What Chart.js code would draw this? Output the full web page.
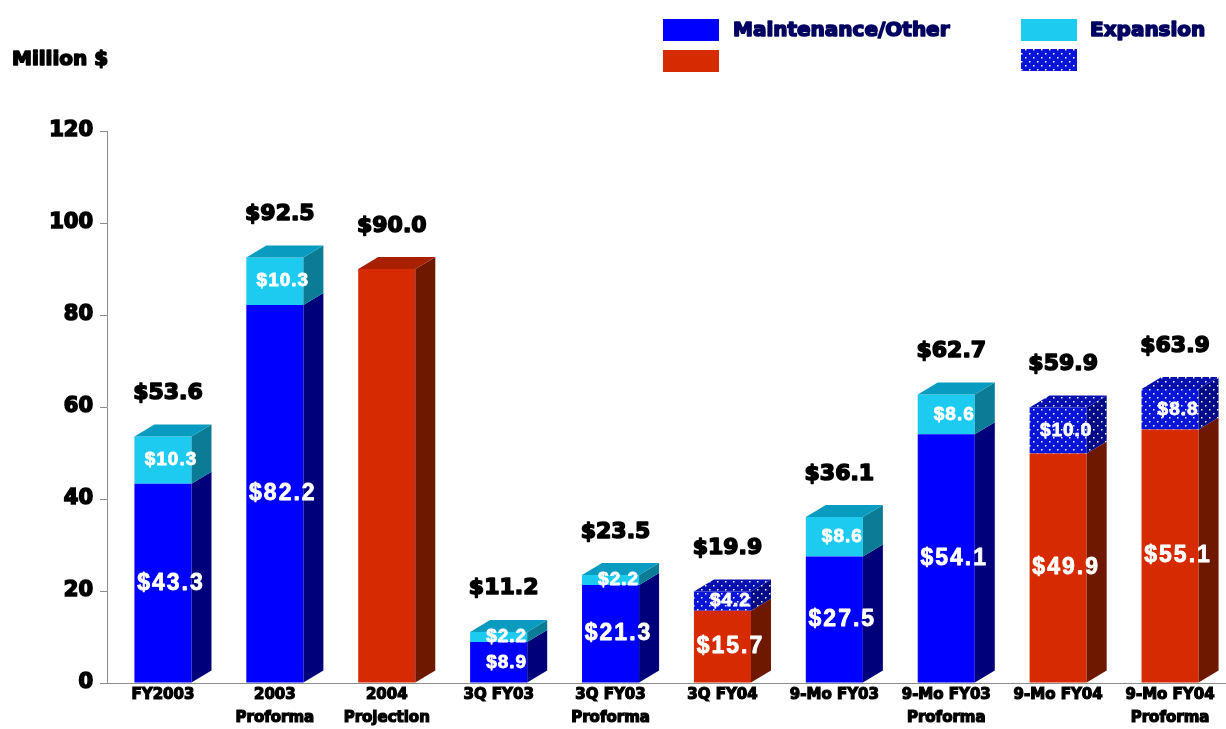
<!DOCTYPE html>
<html>
<head>
<meta charset="utf-8">
<script src="https://cdn.jsdelivr.net/npm/chart.js@4"></script>
<style>
  html, body { margin: 0; padding: 0; background: #fff; }
  #wrap { width: 1226px; height: 729px; }
</style>
</head>
<body>
<div id="wrap"><canvas id="chart" width="1226" height="729"></canvas></div>
<script>
// データ
const categories = [
  ["FY2003"], ["2003", "Proforma"], ["2004", "Projection"], ["3Q FY03"],
  ["3Q FY03", "Proforma"], ["3Q FY04"], ["9-Mo FY03"], ["9-Mo FY03", "Proforma"],
  ["9-Mo FY04"], ["9-Mo FY04", "Proforma"]
];
const maintenance = [43.3, 82.2, null, 8.9, 21.3, null, 27.5, 54.1, null, null];
const maintenanceFY04 = [null, null, 90.0, null, null, 15.7, null, null, 49.9, 55.1];
const expansion = [10.3, 10.3, null, 2.2, 2.2, null, 8.6, 8.6, null, null];
const expansionFY04 = [null, null, null, null, null, 4.2, null, null, 10.0, 8.8];
const totals = [53.6, 92.5, 90.0, 11.2, 23.5, 19.9, 36.1, 62.7, 59.9, 63.9];
const yTicks = [0, 20, 40, 60, 80, 100, 120];

const FONT = "'DejaVu Sans', sans-serif";
const DX = 20, DY = 12; // 奥行き

const canvas = document.getElementById("chart");
const mainCtx = canvas.getContext("2d");

// ドット柄
function makeDots(bg) {
  const c = document.createElement("canvas");
  c.width = 8; c.height = 8;
  const g = c.getContext("2d");
  g.fillStyle = bg;
  g.fillRect(0, 0, 8, 8);
  g.fillStyle = "#ffffff";
  g.fillRect(1, 1, 1.5, 1.5);
  g.fillRect(5, 5, 1.5, 1.5);
  return mainCtx.createPattern(c, "repeat");
}
const dotsFront = makeDots("#0814d8");
const dotsSide = makeDots("#040a88");
const dotsTop = makeDots("#0610b0");

// 一番上のセグメントか
function isTop(chart, di, i) {
  const sets = chart.data.datasets;
  for (let k = di + 1; k < sets.length; k++) {
    if (sets[k].data[i] != null) return false;
  }
  return true;
}

// セグメントが1つだけの棒か
function isSingle(chart, i) {
  return chart.data.datasets.filter((ds) => ds.data[i] != null).length === 1;
}

// 太字を少し太く
function heavyText(ctx, text, x, y, color, w) {
  ctx.fillStyle = color;
  ctx.strokeStyle = color;
  ctx.lineWidth = w;
  ctx.lineJoin = "round";
  ctx.strokeText(text, x, y);
  ctx.fillText(text, x, y);
}

// 立体の側面と上面
const bars3d = {
  id: "bars3d",
  afterDatasetsDraw(chart) {
    const ctx = chart.ctx;
    ctx.save();
    chart.data.datasets.forEach((ds, di) => {
      const meta = chart.getDatasetMeta(di);
      meta.data.forEach((bar, i) => {
        if (ds.data[i] == null) return;
        const { x, y, base, width } = bar.getProps(["x", "y", "base", "width"], true);
        const l = x - width / 2, r = x + width / 2;
        ctx.fillStyle = ds.sideColor;
        ctx.beginPath();
        ctx.moveTo(r, y);
        ctx.lineTo(r + DX, y - DY);
        ctx.lineTo(r + DX, base - DY);
        ctx.lineTo(r, base);
        ctx.closePath();
        ctx.fill();
        if (isTop(chart, di, i)) {
          ctx.fillStyle = ds.topColor;
          ctx.beginPath();
          ctx.moveTo(l, y);
          ctx.lineTo(r, y);
          ctx.lineTo(r + DX, y - DY);
          ctx.lineTo(l + DX, y - DY);
          ctx.closePath();
          ctx.fill();
        }
      });
    });
    ctx.restore();
  },
  afterDraw(chart) {
    const ctx = chart.ctx;
    ctx.save();
    ctx.textAlign = "center";
    ctx.textBaseline = "middle";
    // セグメント内の値
    chart.data.datasets.forEach((ds, di) => {
      const meta = chart.getDatasetMeta(di);
      meta.data.forEach((bar, i) => {
        const v = ds.data[i];
        if (v == null || isSingle(chart, i)) return;
        const { x, y, base } = bar.getProps(["x", "y", "base"], true);
        ctx.font = (v >= 11 ? "bold 23px " : "bold 19px ") + "'Liberation Sans', sans-serif";
        ctx.letterSpacing = v >= 11 ? "2px" : "1px";
        heavyText(ctx, "$" + v.toFixed(1), x + 8, (y + base) / 2, "#ffffff", 0.8);
      });
    });
    // 合計
    ctx.letterSpacing = "0px";
    ctx.font = "bold 22px " + FONT;
    const yScale = chart.scales.y;
    const xScale = chart.scales.x;
    totals.forEach((t, i) => {
      const px = xScale.getPixelForValue(i);
      heavyText(ctx, "$" + t.toFixed(1), px + 5, yScale.getPixelForValue(t) - 43, "#000000", 1.6);
    });
    // 単位
    ctx.textAlign = "left";
    ctx.font = "bold 20px " + FONT;
    heavyText(ctx, "Million $", 12, 60, "#000000", 1.6);
    // 凡例
    const sq = [
      { x: 663, y: 19, c: "#0000ff" },
      { x: 663, y: 50, c: "#d62a00" },
      { x: 1021, y: 19, c: "#1ecbf0" },
      { x: 1021, y: 49, c: dotsFront }
    ];
    sq.forEach((s) => {
      ctx.fillStyle = s.c;
      ctx.fillRect(s.x, s.y, 56, 22);
    });
    ctx.font = "bold 20px " + FONT;
    heavyText(ctx, "Maintenance/Other", 733, 31, "#000060", 1.6);
    heavyText(ctx, "Expansion", 1090, 31, "#000060", 1.6);
    ctx.restore();
  }
};

new Chart(canvas, {
  type: "bar",
  data: {
    labels: categories,
    datasets: [
      { label: "Maintenance/Other", data: maintenance, backgroundColor: "#0000ff", sideColor: "#00007a", topColor: "#0000c0" },
      { label: "", data: maintenanceFY04, backgroundColor: "#d62a00", sideColor: "#6e1800", topColor: "#a82000" },
      { label: "Expansion", data: expansion, backgroundColor: "#1ecbf0", sideColor: "#0a7c96", topColor: "#0a9cc0" },
      { label: "", data: expansionFY04, backgroundColor: dotsFront, sideColor: dotsSide, topColor: dotsTop }
    ]
  },
  options: {
    responsive: false,
    animation: false,
    devicePixelRatio: 1,
    layout: { padding: { top: 131, right: 0, bottom: 0, left: 0 } },
    datasets: {
      bar: { categoryPercentage: 1, barPercentage: 0.51, borderWidth: 0, borderSkipped: false }
    },
    plugins: {
      legend: { display: false },
      tooltip: { enabled: false }
    },
    scales: {
      x: {
        stacked: true,
        grid: { display: false, drawTicks: false },
        border: { display: true, color: "#8c8c8c", width: 1 },
        ticks: {
          color: "#000000",
          textStrokeColor: "#000000",
          textStrokeWidth: 1.2,
          padding: 1,
          maxRotation: 0,
          autoSkip: false,
          font: { family: FONT, size: 15, weight: "bold", lineHeight: 1.5 }
        },
        afterFit(scale) { scale.height = 46; }
      },
      y: {
        stacked: true,
        min: 0,
        max: 120,
        afterBuildTicks(scale) { scale.ticks = yTicks.map((v) => ({ value: v })); },
        grid: { drawOnChartArea: false, drawTicks: true, tickLength: 7, color: "#8c8c8c" },
        border: { display: true, color: "#8c8c8c", width: 1 },
        ticks: {
          color: "#000000",
          textStrokeColor: "#000000",
          textStrokeWidth: 1.6,
          padding: 7,
          font: { family: FONT, size: 21, weight: "bold" }
        },
        afterFit(scale) { scale.width = 107; }
      }
    }
  },
  plugins: [bars3d]
});
</script>
</body>
</html>
